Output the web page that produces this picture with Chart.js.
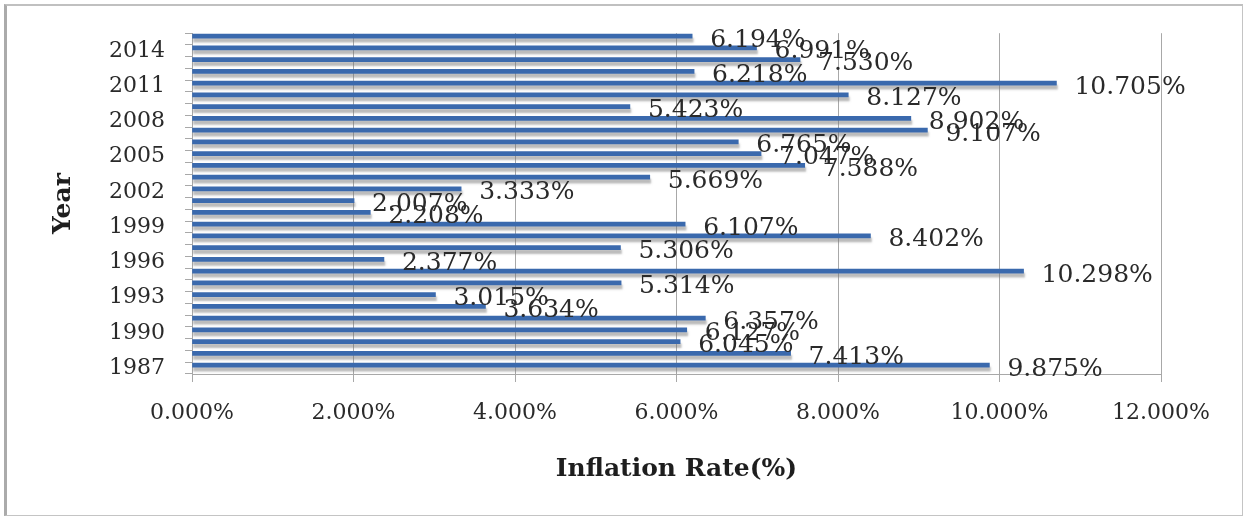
<!DOCTYPE html>
<html>
<head>
<meta charset="utf-8">
<script src="https://cdn.jsdelivr.net/npm/chart.js@4"></script>
<style>
  html, body { margin: 0; padding: 0; background: #ffffff; }
  #frame { position: absolute; left: 4px; top: 4px; width: 1235px; height: 509px;
           border: 1px solid #c4c4c4; border-left: 3px solid #ababab; border-top: 2px solid #c0c0c0; }
  #c { position: absolute; left: 0; top: 0; }
</style>
</head>
<body>
<div id="frame"></div>
<canvas id="c" width="1243" height="516"></canvas>
<script>
const years = ['1987','1988','1989','1990','1991','1992','1993','1994','1995','1996','1997','1998','1999','2000','2001','2002','2003','2004','2005','2006','2007','2008','2009','2010','2011','2012','2013','2014','2015'];
const inflation = [9.875, 7.413, 6.045, 6.127, 6.357, 3.634, 3.015, 5.314, 10.298, 2.377, 5.306, 8.402, 6.107, 2.208, 2.007, 3.333, 5.669, 7.588, 7.047, 6.765, 9.107, 8.902, 5.423, 8.127, 10.705, 6.218, 7.530, 6.991, 6.194];
const xTicks = [0, 2, 4, 6, 8, 10, 12];

const SERIF = "'DejaVu Serif', 'Liberation Serif', serif";

const barStyle = {
  id: 'barStyle',
  beforeDatasetsDraw(chart) {
    const ctx = chart.ctx;
    ctx.save();
    ctx.translate(0, -3);
    ctx.shadowColor = 'rgba(120,120,120,0.5)';
    ctx.shadowOffsetX = 1;
    ctx.shadowOffsetY = 4;
    ctx.shadowBlur = 2;
  },
  afterDatasetsDraw(chart) {
    const ctx = chart.ctx;
    ctx.restore();
    const meta = chart.getDatasetMeta(0);
    ctx.save();
    ctx.font = '25px ' + SERIF;
    ctx.fillStyle = '#2a2a2a';
    ctx.textAlign = 'left';
    ctx.textBaseline = 'middle';
    meta.data.forEach((el, i) => {
      const v = chart.data.datasets[0].data[i];
      ctx.fillText(v.toFixed(3) + '%', el.x + 18, el.y + 1);
    });
    ctx.restore();
  }
};

new Chart(document.getElementById('c'), {
  type: 'bar',
  data: {
    labels: years,
    datasets: [{
      label: 'Inflation Rate(%)',
      data: inflation,
      backgroundColor: '#3a69ad',
      borderWidth: 0,
      barThickness: 4,
      clip: false
    }]
  },
  options: {
    indexAxis: 'y',
    responsive: false,
    devicePixelRatio: 1,
    animation: false,
    events: [],
    layout: { padding: { left: 0, top: 32, right: 82, bottom: 0 } },
    plugins: { legend: { display: false }, tooltip: { enabled: false } },
    scales: {
      x: {
        type: 'linear',
        min: 0, max: 12,
        afterBuildTicks(s) { s.ticks = xTicks.map(v => ({ value: v })); },
        afterFit(s) { s.height = 142; },
        ticks: {
          callback: v => Number(v).toFixed(3) + '%',
          font: { family: SERIF, size: 22 },
          color: '#2a2a2a',
          padding: 18
        },
        grid: { color: '#a8a8a8', lineWidth: 1, tickLength: 8, drawTicks: true },
        border: { display: true, color: '#a8a8a8' },
        title: {
          display: true,
          text: 'Inflation Rate(%)',
          font: { family: SERIF, size: 25, weight: 'bold' },
          color: '#1e1e1e',
          padding: { top: 0, bottom: 32 }
        }
      },
      y: {
        type: 'category',
        reverse: true,
        offset: true,
        afterFit(s) { s.width = 192; },
        ticks: {
          autoSkip: false,
          callback: (v, i) => (i % 3 === 0 ? years[i] : ''),
          font: { family: SERIF, size: 22 },
          color: '#2a2a2a',
          padding: 20
        },
        grid: { drawOnChartArea: false, drawTicks: true, tickLength: 7, offset: true, color: '#a8a8a8' },
        border: { display: true, color: '#a8a8a8' },
        title: {
          display: true,
          text: 'Year',
          font: { family: SERIF, size: 25, weight: 'bold' },
          color: '#1e1e1e',
          padding: { top: 48, bottom: 0 }
        }
      }
    }
  },
  plugins: [barStyle]
});
</script>
</body>
</html>
